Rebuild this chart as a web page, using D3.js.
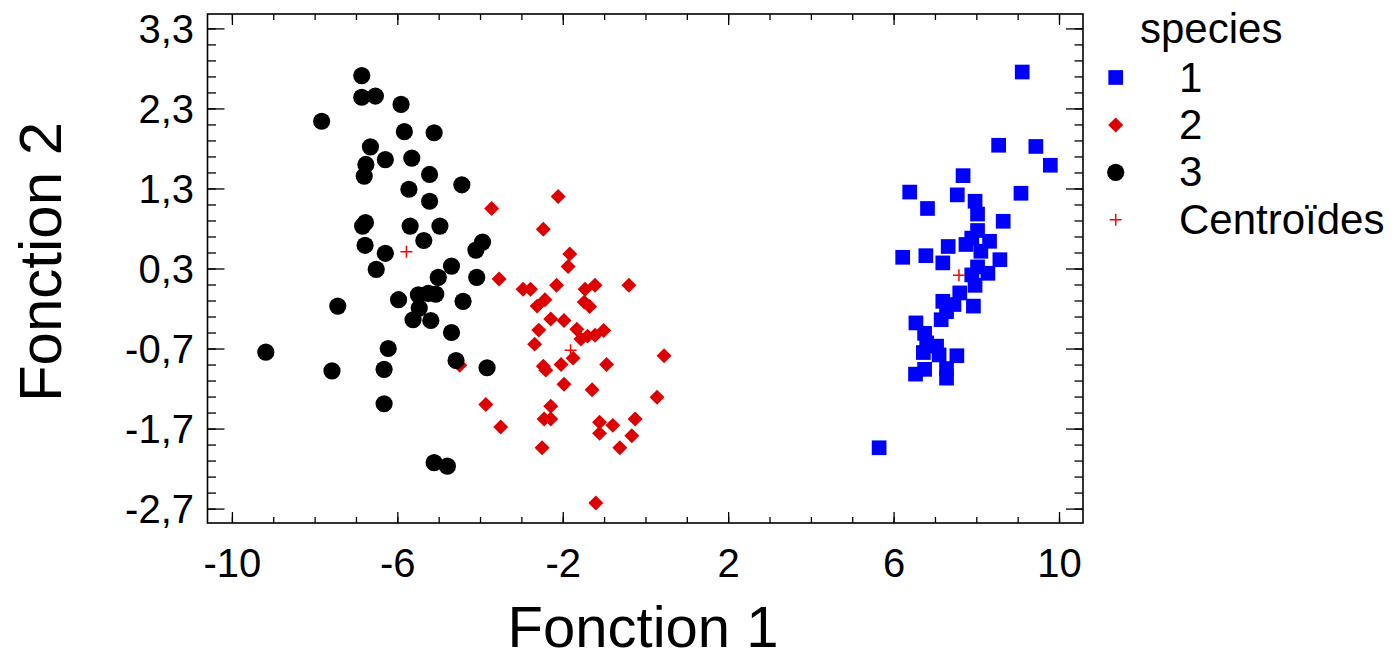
<!DOCTYPE html>
<html>
<head>
<meta charset="utf-8">
<script src="https://cdn.jsdelivr.net/npm/d3@7"></script>
<style>
  body { margin: 0; background: #fff; }
  svg { display: block; font-family: "Liberation Sans", Arial, sans-serif; }
</style>
</head>
<body>
<svg width="1396" height="657"></svg>
<script>
// species 1 (blue squares)
const sp1X = [9.11, 8.54, 9.44, 9.79, 7.68, 6.39, 7.54, 9.08, 7.97, 6.82, 8.03, 8.65, 8.03, 7.89, 8.32,
  7.75, 7.32, 8.11, 6.22, 6.78, 7.19, 8.57, 8.03, 7.89, 8.28, 7.97, 7.60, 7.19, 7.46, 7.93,
  7.28, 7.15, 6.54, 6.75, 6.80, 7.04, 6.72, 7.10, 7.53, 6.75, 6.53, 7.28, 7.28, 5.65];
const sp1Y = [2.755, 1.84, 1.825, 1.59, 1.46, 1.255, 1.22, 1.24, 1.14, 1.05, 0.98, 0.89, 0.775, 0.68, 0.64,
  0.60, 0.575, 0.515, 0.44, 0.46, 0.37, 0.41, 0.32, 0.22, 0.24, 0.09, -0.005, -0.11, -0.15, -0.17,
  -0.24, -0.34, -0.38, -0.51, -0.63, -0.67, -0.75, -0.78, -0.79, -0.96, -1.02, -0.95, -1.07, -1.94];

// species 2 (red diamonds)
const sp2X = [-2.11, -3.72, -2.47, -1.83, -1.87, -3.54, -2.96, -2.78, -2.15, -1.46, -1.22, -0.40, -2.62, -2.43, -1.48,
  -1.35, -2.29, -1.97, -2.58, -1.66, -1.56, -1.40, -1.22, -1.01, -2.68, -1.75, -2.47, -2.41, -2.04, -0.94,
  0.45, -1.97, -1.29, 0.28, -3.86, -2.29, -2.45, -2.29, -3.50, -1.11, -0.79, -0.25, -1.11, -0.33, -2.50,
  -0.62, -1.20, -4.49];
const sp2Y = [1.20, 1.05, 0.79, 0.48, 0.325, 0.17, 0.04, 0.04, 0.09, 0.04, 0.09, 0.09, -0.17, -0.09, -0.12,
  -0.175, -0.33, -0.35, -0.47, -0.46, -0.58, -0.545, -0.535, -0.475, -0.645, -0.82, -0.92, -0.97, -0.90, -0.90,
  -0.79, -1.145, -1.215, -1.31, -1.40, -1.42, -1.58, -1.58, -1.68, -1.62, -1.66, -1.58, -1.76, -1.79, -1.94,
  -1.94, -2.63, -0.91];

// species 3 (black circles)
const sp3X = [-6.86, -6.86, -6.53, -5.91, -7.83, -5.83, -5.11, -6.65, -6.29, -6.76, -6.80, -5.65, -5.22, -4.44, -5.72,
  -5.22, -6.84, -6.77, -5.69, -4.97, -6.78, -6.29, -5.36, -3.94, -4.10, -6.51, -4.69, -5.01, -4.08, -7.44,
  -5.97, -5.49, -5.25, -5.07, -5.47, -5.62, -5.19, -4.41, -4.69, -6.22, -7.58, -6.32, -4.58, -3.83, -6.32,
  -9.18, -5.11, -4.79];
const sp3Y = [2.71, 2.44, 2.455, 2.35, 2.14, 2.01, 1.996, 1.82, 1.66, 1.60, 1.455, 1.68, 1.475, 1.346, 1.29,
  1.14, 0.83, 0.875, 0.83, 0.83, 0.59, 0.49, 0.65, 0.63, 0.53, 0.29, 0.33, 0.19, 0.19, -0.17,
  -0.09, -0.03, -0.01, -0.02, -0.195, -0.34, -0.35, -0.11, -0.50, -0.70, -0.98, -0.96, -0.85, -0.94, -1.39,
  -0.745, -2.125, -2.17];

// group centroids (species 1, 2, 3)
const centroidX = [7.58, -1.81, -5.78];
const centroidY = [0.215, -0.72, 0.51];

const xTickValues = [-10, -6, -2, 2, 6, 10];
const xTickLabels = ["-10", "-6", "-2", "2", "6", "10"];
const yTickValues = [-2.7, -1.7, -0.7, 0.3, 1.3, 2.3, 3.3];
const yTickLabels = ["-2,7", "-1,7", "-0,7", "0,3", "1,3", "2,3", "3,3"];

const legendLabels = ["1", "2", "3", "Centroïdes"];

const svg = d3.select("svg");
const plotL = 207.5, plotR = 1083, plotT = 14, plotB = 523;

const x = d3.scaleLinear().domain([-10.59, 10.58]).range([plotL, plotR]);
const y = d3.scaleLinear().domain([-2.88, 3.48]).range([plotB, plotT]);

const xMinor = d3.range(-10, 11, 1);
const yMinor = d3.range(0, 31).map(i => +(-2.7 + i * 0.2).toFixed(1));

// plus marker as a custom symbol type
const plusType = {
  draw(ctx, size) {
    const r = Math.sqrt(size) / 2;
    ctx.moveTo(-r, 0); ctx.lineTo(r, 0);
    ctx.moveTo(0, -r); ctx.lineTo(0, r);
  }
};

const sym = {
  square: d3.symbol().type(d3.symbolSquare).size(216)(),
  diamond: d3.symbol().type(d3.symbolSquare).size(112)(),
  circle: d3.symbol().type(d3.symbolCircle).size(232)(),
  plus: d3.symbol().type(plusType).size(144)()
};

function fmt(vals, labels) {
  return d => labels[vals.indexOf(d)];
}

// axes: ticks inside on all four sides
function drawAxis(axis, tf) {
  const g = svg.append("g").attr("transform", tf).call(axis);
  g.select(".domain").remove();
  g.selectAll(".tick line").attr("stroke", "#000").attr("stroke-width", 1.3);
  g.selectAll("text").attr("fill", "#000").style("font-size", "40px");
  return g;
}

drawAxis(d3.axisBottom(x).tickValues(xMinor).tickSize(-6).tickFormat(""), `translate(0,${plotB})`);
drawAxis(d3.axisBottom(x).tickValues(xTickValues).tickSize(-11).tickPadding(25.5)
  .tickFormat(fmt(xTickValues, xTickLabels)), `translate(0,${plotB})`);
drawAxis(d3.axisTop(x).tickValues(xMinor).tickSize(-6).tickFormat(""), `translate(0,${plotT})`);
drawAxis(d3.axisTop(x).tickValues(xTickValues).tickSize(-11).tickFormat(""), `translate(0,${plotT})`);

drawAxis(d3.axisLeft(y).tickValues(yMinor).tickSize(-8.5).tickFormat(""), `translate(${plotL},0)`);
drawAxis(d3.axisLeft(y).tickValues(yTickValues).tickSize(-17).tickPadding(13.5)
  .tickFormat(fmt(yTickValues, yTickLabels)), `translate(${plotL},0)`)
  .selectAll("text").attr("dy", "0.34em");
drawAxis(d3.axisRight(y).tickValues(yMinor).tickSize(-8.5).tickFormat(""), `translate(${plotR},0)`);
drawAxis(d3.axisRight(y).tickValues(yTickValues).tickSize(-17).tickFormat(""), `translate(${plotR},0)`);

svg.append("rect")
  .attr("x", plotL).attr("y", plotT)
  .attr("width", plotR - plotL).attr("height", plotB - plotT)
  .attr("fill", "none").attr("stroke", "#000").attr("stroke-width", 1.6);

// axis titles
svg.append("text")
  .attr("x", 643).attr("y", 647)
  .attr("text-anchor", "middle")
  .style("font-size", "58px")
  .text("Fonction 1");

svg.append("text")
  .attr("transform", "translate(61,262) rotate(-90)")
  .attr("text-anchor", "middle")
  .style("font-size", "60px")
  .text("Fonction 2");

// points
const plot = svg.append("g");

plot.selectAll(".s1").data(d3.range(sp1X.length)).join("path")
  .attr("d", sym.square)
  .attr("transform", i => `translate(${x(sp1X[i])},${y(sp1Y[i])})`)
  .attr("fill", "#0000ff");

plot.selectAll(".s2").data(d3.range(sp2X.length)).join("path")
  .attr("d", sym.diamond)
  .attr("transform", i => `translate(${x(sp2X[i])},${y(sp2Y[i])}) rotate(45)`)
  .attr("fill", "#dd0000");

plot.selectAll(".s3").data(d3.range(sp3X.length)).join("path")
  .attr("d", sym.circle)
  .attr("transform", i => `translate(${x(sp3X[i])},${y(sp3Y[i])})`)
  .attr("fill", "#000");

plot.selectAll(".cen").data(d3.range(centroidX.length)).join("path")
  .attr("d", sym.plus)
  .attr("transform", i => `translate(${x(centroidX[i])},${y(centroidY[i])})`)
  .attr("fill", "none")
  .attr("stroke", "#ff0000")
  .attr("stroke-width", 1.5);

// legend
const legend = svg.append("g");
legend.append("text")
  .attr("x", 1140).attr("y", 43)
  .style("font-size", "42px")
  .text("species");

const legendSym = [
  { d: sym.square, fill: "#0000ff", stroke: "none", rot: 0 },
  { d: sym.diamond, fill: "#dd0000", stroke: "none", rot: 45 },
  { d: sym.circle, fill: "#000", stroke: "none", rot: 0 },
  { d: sym.plus, fill: "none", stroke: "#ff0000", rot: 0 }
];

const rows = legend.selectAll(".row").data(legendLabels).join("g")
  .attr("transform", (d, i) => `translate(0,${91.5 + i * 47.4})`);

rows.append("path")
  .attr("d", (d, i) => legendSym[i].d)
  .attr("transform", (d, i) => `translate(1115.7,-14) rotate(${legendSym[i].rot})`)
  .attr("fill", (d, i) => legendSym[i].fill)
  .attr("stroke", (d, i) => legendSym[i].stroke)
  .attr("stroke-width", 1.5);

rows.append("text")
  .attr("x", 1179).attr("y", 0)
  .style("font-size", "42px")
  .text(d => d);
</script>
</body>
</html>
